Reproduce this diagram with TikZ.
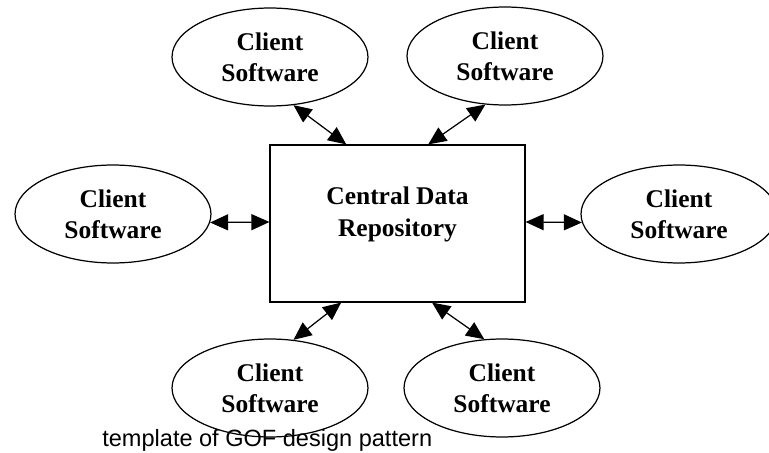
\documentclass[tikz,border=0pt]{standalone}
\usepackage{fontspec}
\setmainfont{Liberation Serif}
\newfontfamily\capfont{Liberation Sans}
\usetikzlibrary{calc,arrows.meta,positioning,shapes.geometric}

\begin{document}
\begin{tikzpicture}[x=0.02cm, y=-0.02cm,
    client/.style={draw, ellipse, line width=0.7pt, inner sep=0pt,
        minimum width=3.92cm, minimum height=1.96cm, align=center,
        font=\bfseries\fontsize{14.5}{17.6}\selectfont},
    repo/.style={draw, rectangle, line width=0.7pt, inner sep=0pt,
        minimum width=5.1cm, minimum height=3.14cm},
    repotext/.style={align=center, inner sep=0pt,
        font=\bfseries\fontsize{14.5}{18}\selectfont},
    link/.style={line width=0.7pt, {Triangle[length=0.36cm,width=0.32cm]}-{Triangle[length=0.36cm,width=0.32cm]}}]

    % Fix the page to the size of the picture
    \useasboundingbox (0,0) rectangle (769,453);

    % The central repository
    \node[repo] (box) at (397.5,223.5) {};
    \node[repotext] (boxtext) at ($(box.center)+(0,-9)$) {Central Data\\Repository};

    % The six clients round it
    \node[client] (tl) at (270,57)  {Client\\Software};
    \node[client] (tr) at (505,56)  {Client\\Software};
    \node[client] (l)  at (113,214) {Client\\Software};
    \node[client] (r)  at (679,214) {Client\\Software};
    \node[client] (bl) at (270,388) {Client\\Software};
    \node[client] (br) at (502,388) {Client\\Software};

    % Points where the links meet the box
    \coordinate (btl) at ($(box.north west)!.30!(box.north east)$);
    \coordinate (btr) at ($(box.north west)!.62!(box.north east)$);
    \coordinate (bbl) at ($(box.south west)!.28!(box.south east)$);
    \coordinate (bbr) at ($(box.south west)!.635!(box.south east)$);
    \coordinate (bl1) at ($(box.west)+(0,-1.5)$);
    \coordinate (br1) at ($(box.east)+(0,-1.5)$);

    % Two-way links
    \draw[link] (tl.-64)  -- (btl);
    \draw[link] (tr.-112) -- (btr);
    \draw[link] (l.-5)    -- (bl1);
    \draw[link] (r.-175)  -- (br1);
    \draw[link] (bl.64)   -- (bbl);
    \draw[link] (br.110)  -- (bbr);

    % Caption
    \node[anchor=base west, inner sep=0pt, font=\capfont\fontsize{13.4}{16}\selectfont]
        (cap) at (102,446) {template of GOF design pattern};
\end{tikzpicture}
\end{document}
